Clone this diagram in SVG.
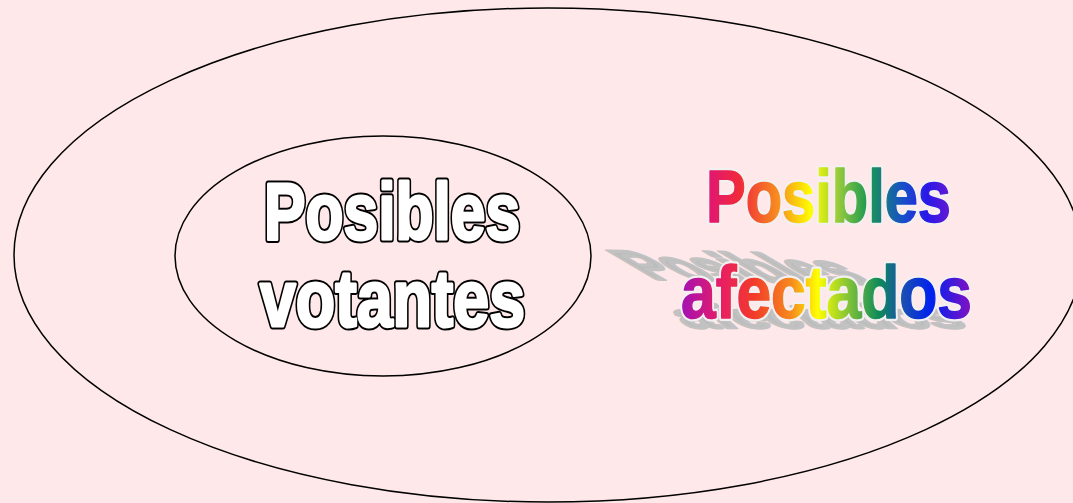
<svg xmlns="http://www.w3.org/2000/svg" width="1073" height="503" viewBox="0 0 1073 503">
  <defs>
    <linearGradient id="rb1" gradientUnits="userSpaceOnUse" x1="705" y1="0" x2="952" y2="0">
      <stop offset="0" stop-color="#e0147a"/>
      <stop offset="0.14" stop-color="#f02a3a"/>
      <stop offset="0.3" stop-color="#f7901e"/>
      <stop offset="0.43" stop-color="#ffff00"/>
      <stop offset="0.55" stop-color="#8cc63f"/>
      <stop offset="0.66" stop-color="#1a9850"/>
      <stop offset="0.8" stop-color="#1650c8"/>
      <stop offset="0.9" stop-color="#2a18e8"/>
      <stop offset="1" stop-color="#6a18d0"/>
    </linearGradient>
    <linearGradient id="rb2" gradientUnits="userSpaceOnUse" x1="680" y1="0" x2="973" y2="0">
      <stop offset="0" stop-color="#a010b8"/>
      <stop offset="0.14" stop-color="#e81e64"/>
      <stop offset="0.25" stop-color="#f23a2a"/>
      <stop offset="0.38" stop-color="#f78a1e"/>
      <stop offset="0.47" stop-color="#ffff00"/>
      <stop offset="0.58" stop-color="#7cc03a"/>
      <stop offset="0.68" stop-color="#0e8a5a"/>
      <stop offset="0.76" stop-color="#1a4fb0"/>
      <stop offset="0.86" stop-color="#0020f0"/>
      <stop offset="1" stop-color="#8a10c0"/>
    </linearGradient>
  </defs>
  <style>
    .ell { fill: none; stroke: #000; stroke-width: 1.5; }
    .f { font-family: "Liberation Sans", Arial, sans-serif; font-weight: bold; }
    .o1 { font-size: 80px; fill: #000; stroke: #000; stroke-width: 7; stroke-linejoin: round; }
    .o2 { font-size: 80px; fill: #fff; stroke: #fff; stroke-width: 3; stroke-linejoin: round; }
    .r1 { font-size: 74px; fill: #f2f0f0; stroke: #f2f0f0; stroke-width: 6; stroke-linejoin: round; }
    .r2 { font-size: 74px; stroke-width: 1.5; stroke-linejoin: round; }
    .sh { font-size: 74px; fill: #bcbcbc; stroke: #c2c2c2; stroke-width: 6; stroke-linejoin: round; }
  </style>
  <rect x="0" y="0" width="1073" height="503" fill="#ffe8e9"/>
  <g id="outer-set">
    <ellipse class="ell" cx="548" cy="255" rx="534" ry="247"/>
  </g>
  <g id="inner-set">
    <ellipse class="ell" cx="383" cy="256" rx="208" ry="120"/>
    <text class="f o1" x="264" y="239" textLength="256" lengthAdjust="spacingAndGlyphs">Posibles</text>
    <text class="f o1" x="260" y="326" textLength="265" lengthAdjust="spacingAndGlyphs">votantes</text>
    <text class="f o2" x="264" y="239" textLength="256" lengthAdjust="spacingAndGlyphs">Posibles</text>
    <text class="f o2" x="260" y="326" textLength="265" lengthAdjust="spacingAndGlyphs">votantes</text>
  </g>
  <g id="afectados-label">
    <text class="f sh" transform="matrix(0.9 0.02 0.93 0.55 652 279)" x="0" y="0" textLength="247" lengthAdjust="spacingAndGlyphs">Posibles</text>
    <text class="f sh" transform="matrix(0.97 0 0.5 0.45 688 328)" x="0" y="0" textLength="290" lengthAdjust="spacingAndGlyphs">afectados</text>
    <text class="f r1" x="706" y="222" textLength="245" lengthAdjust="spacingAndGlyphs">Posibles</text>
    <text class="f r1" x="681" y="318" textLength="291" lengthAdjust="spacingAndGlyphs">afectados</text>
    <text class="f r2" fill="url(#rb1)" stroke="url(#rb1)" x="706" y="222" textLength="245" lengthAdjust="spacingAndGlyphs">Posibles</text>
    <text class="f r2" fill="url(#rb2)" stroke="url(#rb2)" x="681" y="318" textLength="291" lengthAdjust="spacingAndGlyphs">afectados</text>
  </g>
</svg>
